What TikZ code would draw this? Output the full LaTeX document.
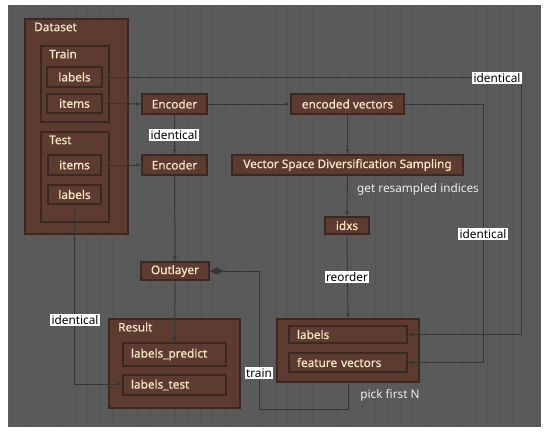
\documentclass[tikz,border=0pt]{standalone}
\usepackage{fontspec}
\setmainfont{Noto Sans}
\newfontfamily\boxfont{Noto Sans}[FakeBold=0.6]
\usetikzlibrary{arrows.meta}
\definecolor{bg}{HTML}{5A5A5A}
\definecolor{gridc}{HTML}{545454}
\definecolor{boxfill}{HTML}{5E3B30}
\definecolor{boxdraw}{HTML}{3A2923}
\definecolor{cream}{HTML}{F6E7C6}
\definecolor{linec}{HTML}{363636}
\definecolor{plain}{HTML}{EDEDED}
\tikzset{
  box/.style={draw=boxdraw, fill=boxfill, line width=1.3pt, text=cream, font=\boxfont\fontsize{11.8}{13}\selectfont, inner sep=0pt},
  title/.style={text=cream, font=\boxfont\fontsize{11.8}{13}\selectfont, anchor=west, inner sep=0pt},
  conn/.style={draw=linec, line width=0.9pt, -{Latex[length=5pt,width=4pt]}},
  line/.style={draw=linec, line width=0.9pt},
  lbl/.style={fill=white, text=black, font=\fontsize{11.8}{13}\selectfont, inner sep=1.2pt},
  note/.style={text=plain, font=\fontsize{11.8}{13}\selectfont, inner sep=0pt}
}
\newcommand{\bx}[7][]{\node[box,minimum width={(#5-#3)*1pt}, minimum height={(#6-#4)*1pt},#1] (#2) at ({(#3+#5)/2},{(#4+#6)/2}) {#7};}
\newcommand{\lbx}[7][]{\node[box,align=left,minimum height={(#6-#4)*1pt},inner xsep=8pt,text width={(#5-#3-16)*1pt},#1] (#2) at ({(#3+#5)/2},{(#4+#6)/2}) {#7};}
\begin{document}
\begin{tikzpicture}[x=1pt,y=-1pt]
\useasboundingbox (0,0) rectangle (550,436);
\fill[white] (0,0) rectangle (550,436);
\fill[bg] (8,5) rectangle (541,427);
\begin{scope}
\clip (8,5) rectangle (541,427);
\draw[gridc, line width=0.4pt, step=12.5] (8,5) grid (541,427);
\end{scope}
% containers
\bx{dataset}{25}{19}{128}{234}{}
\node[title] (tdataset) at (34,27) {Dataset};
\bx{train}{41}{46}{109}{122}{}
\node[title] (ttrain) at (49,54) {Train};
\bx{trlabels}{47}{67}{102}{87}{labels}
\bx{tritems}{47}{94}{102}{113}{items}
\bx{test}{41}{132}{109}{222}{}
\node[title] (ttest) at (49,140) {Test};
\bx{teitems}{48}{155}{101}{175}{items}
\bx{telabels}{48}{185}{101}{204}{labels}
\bx{enc1}{142}{94}{207}{114}{Encoder}
\bx{enc2}{142}{155}{207}{175}{Encoder}
\bx{encvec}{291}{94}{404}{114}{encoded vectors}
\bx{vsds}{232}{155}{463}{175}{Vector Space Diversification Sampling}
\bx{idxs}{325}{217}{369}{234}{idxs}
\bx{outlayer}{141}{262}{209}{280}{Outlayer}
\bx{result}{109}{319}{240}{408}{}
\node[title] (tresult) at (118,327) {Result};
\lbx{lpred}{123}{343}{226}{366}{labels\_predict}
\lbx{ltest}{123}{375}{226}{395}{labels\_test}
\bx{pool}{277}{319}{419}{382}{}
\lbx{plabels}{289}{326}{407}{343}{labels}
\lbx{pfeat}{289}{353}{407}{372}{feature vectors}
% helper coordinates
\coordinate (rA) at (521,0);
\coordinate (rB) at (483,0);
\coordinate (bB) at (0,409);
\coordinate (lT) at (259,0);
\coordinate (dT) at (0,384);
% connectors
\draw[conn] (tritems.east) -- (enc1.west);
\draw[conn] (teitems.east) -- (enc2.west);
\draw[conn] (enc1.east) -- (encvec.west);
\draw[conn] (enc1.south) -- (enc2.north);
\draw[conn] (encvec.south) -- (vsds.north);
\draw[conn] (vsds.south) -- (idxs.north);
\draw[conn] (idxs.south) -- (pool.north);
\draw[conn] (enc2.south) -- (outlayer.north);
\draw[conn] (outlayer.south) -- (lpred.north);
\draw[conn] (trlabels.east) -- (trlabels.east -| rA) -- (plabels.east -| rA) -- (plabels.east);
\draw[conn] (encvec.east) -- (encvec.east -| rB) -- (pfeat.east -| rB) -- (pfeat.east);
\draw[conn] (telabels.south) -- (telabels.south |- dT) -- (ltest.west |- dT);
\draw[line, -{Diamond[length=14pt,width=7pt]}] (pool.south) -- (pool.south |- bB) -- (lT |- bB) -- (lT |- outlayer.east) -- (outlayer.east);
% labels
\node[lbl] (l1) at (497,78) {identical};
\node[lbl] (l2) at (174,135) {identical};
\node[lbl] (l3) at (483,234) {identical};
\node[lbl] (l4) at (75,320) {identical};
\node[lbl] (l5) at (347,277) {reorder};
\node[lbl] (l6) at (259,373) {train};
\node[note] (n1) at (418,189) {get resampled indices};
\node[note] (n2) at (390,395) {pick first N};
\end{tikzpicture}
\end{document}
